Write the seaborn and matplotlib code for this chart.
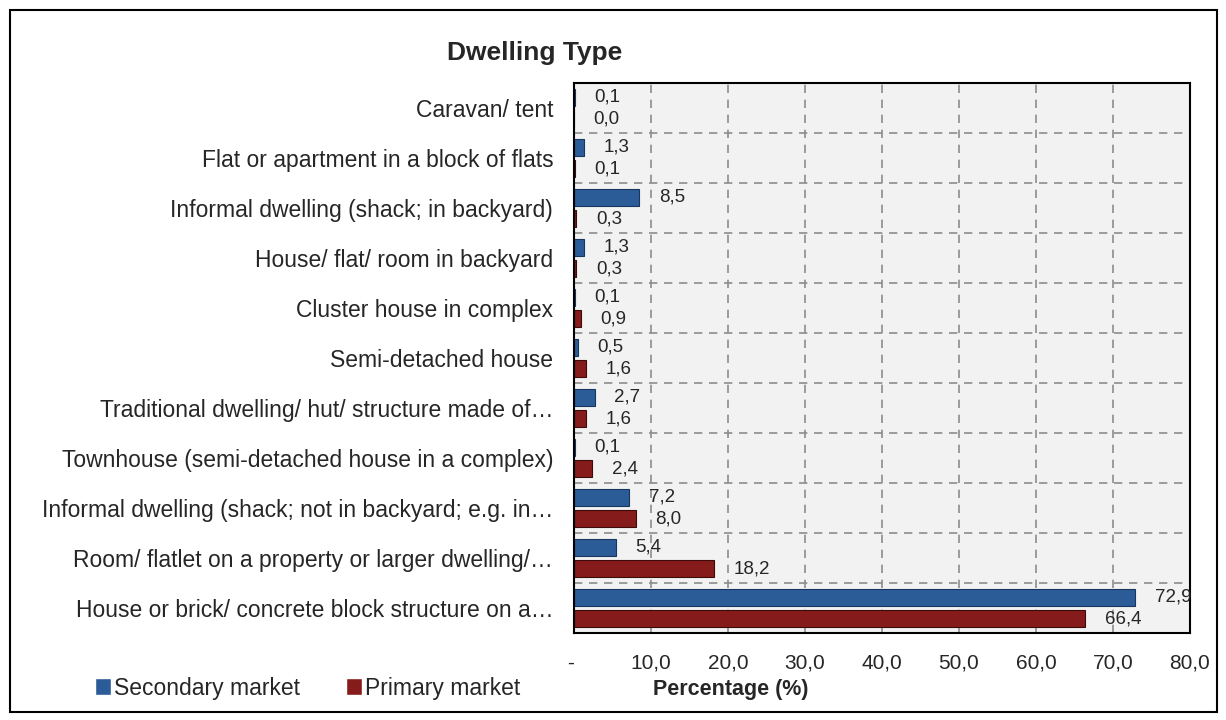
import pandas as pd
import matplotlib.pyplot as plt
import seaborn as sns
from matplotlib.patches import Rectangle

# data (top to bottom)
categories = [
    'Caravan/ tent',
    'Flat or apartment in a block of flats',
    'Informal dwelling (shack; in backyard)',
    'House/ flat/ room in backyard',
    'Cluster house in complex',
    'Semi-detached house',
    'Traditional dwelling/ hut/ structure made of\u2026',
    'Townhouse (semi-detached house in a complex)',
    'Informal dwelling (shack; not in backyard; e.g. in\u2026',
    'Room/ flatlet on a property or larger dwelling/\u2026',
    'House or brick/ concrete block structure on a\u2026',
]
secondary = [0.1, 1.3, 8.5, 1.3, 0.1, 0.5, 2.7, 0.1, 7.2, 5.4, 72.9]
primary = [0.0, 0.1, 0.3, 0.3, 0.9, 1.6, 1.6, 2.4, 8.0, 18.2, 66.4]
markets = ['Secondary market', 'Primary market']
colors = ['#2c5c98', '#861b1b']
x_ticks = [0, 10, 20, 30, 40, 50, 60, 70, 80]

df = pd.DataFrame({
    'Dwelling': categories * 2,
    'Percentage': secondary + primary,
    'Market': [markets[0]] * len(categories) + [markets[1]] * len(categories),
})

sns.set_style('white')
plt.rcParams['font.family'] = ['Liberation Sans', 'DejaVu Sans']

fig = plt.figure(figsize=(12.26, 7.2), dpi=100)
ax = fig.add_axes([574 / 1226, 1 - 633 / 720, 616 / 1226, 550 / 720])
ax.set_facecolor('#f2f2f2')

sns.barplot(data=df, y='Dwelling', x='Percentage', hue='Market', hue_order=markets,
            order=categories, palette=colors, orient='h', width=0.86, gap=0.23,
            saturation=1, ax=ax, legend=True)

for cont, col in zip(ax.containers, ['#173760', '#3e0a0a']):
    for bar in cont:
        bar.set_edgecolor(col)
        bar.set_linewidth(0.8)
    ax.bar_label(cont, fmt=lambda v: f'{v:.1f}'.replace('.', ','), padding=14, fontsize=13.5)

ax.set_xlim(0, 80)
ax.set_ylim(len(categories) - 0.5, -0.5)
ax.set_xticks(x_ticks)
ax.set_xticklabels(['-' if t == 0 else f'{t:.1f}'.replace('.', ',') for t in x_ticks], fontsize=15)
ax.get_xticklabels()[0].set_ha('right')
ax.set_yticks(range(len(categories)))
ax.set_yticklabels(categories, fontsize=16.5)
ax.tick_params(axis='both', length=0)
ax.tick_params(axis='x', pad=15)
ax.tick_params(axis='y', pad=15)

# dashed grid: vertical at ticks, horizontal between categories
ax.set_yticks([i + 0.5 for i in range(len(categories) - 1)], minor=True)
ax.grid(axis='x', which='major', linestyle=(0, (5, 4)), color='#8c8c8c', linewidth=1.2)
ax.grid(axis='y', which='minor', linestyle=(0, (5, 4)), color='#8c8c8c', linewidth=1.2)
ax.grid(axis='y', which='major', visible=False)
ax.tick_params(axis='y', which='minor', length=0)
ax.set_axisbelow(True)

for s in ax.spines.values():
    s.set_visible(True)
    s.set_color('black')
    s.set_linewidth(1.5)

ax.set_ylabel('')
ax.set_xlabel('Percentage (%)', fontsize=15.5, fontweight='bold', va='center')
ax.xaxis.set_label_coords((731 - 574) / 616, (633 - 689) / 550)

handles, labels = ax.get_legend_handles_labels()
ax.get_legend().remove()
fig.legend(handles, labels, loc='center left', bbox_to_anchor=(74 / 1226, 1 - 688 / 720),
           ncol=2, frameon=False, fontsize=16.5, handlelength=0.7, handleheight=0.7,
           handletextpad=0.15, columnspacing=2.0)

fig.text(535 / 1226, 1 - 53 / 720, 'Dwelling Type', ha='center', va='center',
         fontsize=19, fontweight='bold')

# outer frame around the whole chart
fig.patches.append(Rectangle((10 / 1226, 8 / 720), 1207 / 1226, 702 / 720,
                             transform=fig.transFigure, fill=False,
                             edgecolor='black', linewidth=1.5))

fig.savefig('out.png', dpi=100)
